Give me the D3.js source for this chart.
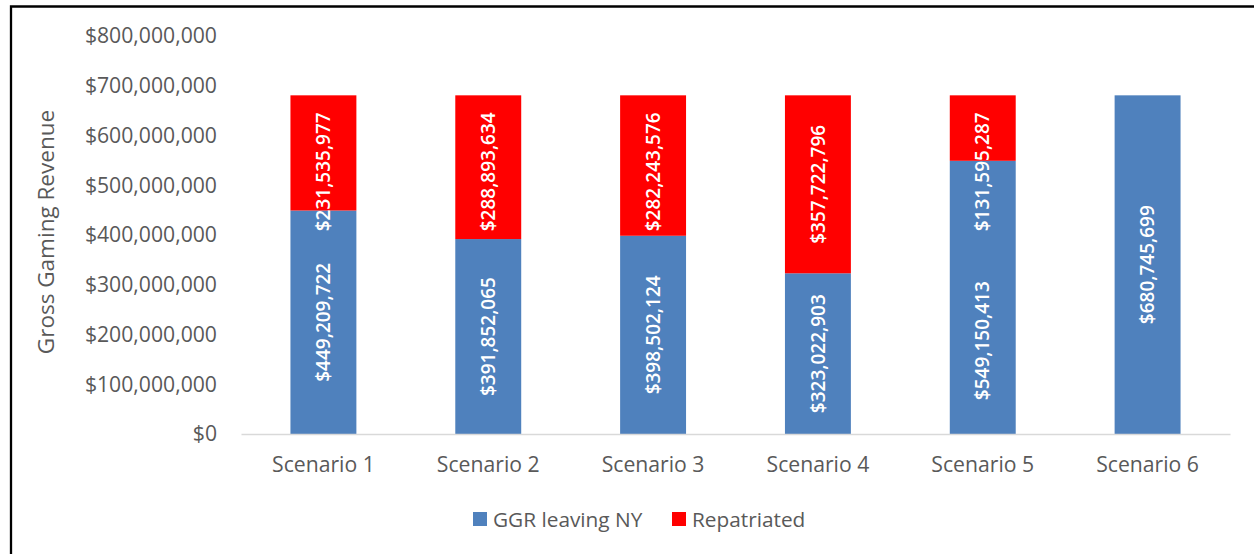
<!DOCTYPE html>
<html>
<head>
<meta charset="utf-8">
<script src="https://cdn.jsdelivr.net/npm/d3@7"></script>
<style>
  html, body { margin: 0; padding: 0; background: #fff; }
  svg text { font-family: "Open Sans", "Noto Sans", sans-serif; }
</style>
</head>
<body>
<svg id="chart" width="1254" height="554"></svg>
<script>
// chart data
var categories = ['Scenario 1', 'Scenario 2', 'Scenario 3', 'Scenario 4', 'Scenario 5', 'Scenario 6'];
var ggrLeaving = [449209722, 391852065, 398502124, 323022903, 549150413, 680745699];
var repatriated = [231535977, 288893634, 282243576, 357722796, 131595287, 0];
var yTicks = [0, 100e6, 200e6, 300e6, 400e6, 500e6, 600e6, 700e6, 800e6];
var seriesNames = ['GGR leaving NY', 'Repatriated'];
var seriesColors = ['#4f81bd', '#ff0000'];

var svg = d3.select('#chart');
var grey = '#595959';

var x = d3.scaleBand().domain(categories).range([241, 1230]).padding(0);
var y = d3.scaleLinear().domain([0, 800e6]).range([434, 36]);
var barW = x.bandwidth() * 0.4;

// frame (left + top edges)
svg.append('path')
    .attr('d', 'M11,554V6.5H1254')
    .attr('fill', 'none')
    .attr('stroke', '#000')
    .attr('stroke-width', 2.3);

// y axis labels
var yAxis = svg.append('g')
    .attr('transform', 'translate(241,0)')
    .call(d3.axisLeft(y).tickValues(yTicks).tickSize(0).tickPadding(24)
        .tickFormat(d3.format('$,')));
yAxis.select('.domain').remove();
yAxis.selectAll('text')
    .attr('fill', grey)
    .style('font-size', '21.2px');

// y axis title
svg.append('text')
    .attr('transform', 'translate(54,232) rotate(-90)')
    .attr('text-anchor', 'middle')
    .attr('fill', grey)
    .style('font-size', '22.5px')
    .text('Gross Gaming Revenue');

// stacked rows
var rows = categories.map(function (c, i) {
    return {cat: c, a: ggrLeaving[i], b: repatriated[i]};
});
var stacked = d3.stack().keys(['a', 'b'])(rows);

var layers = svg.selectAll('g.layer')
    .data(stacked)
    .enter()
    .append('g')
    .attr('class', 'layer')
    .attr('fill', function (d, i) { return seriesColors[i]; });

layers.selectAll('rect')
    .data(function (d) { return d; })
    .enter()
    .append('rect')
    .attr('x', function (d) { return x(d.data.cat) + (x.bandwidth() - barW) / 2; })
    .attr('width', barW)
    .attr('y', function (d) { return y(d[1]); })
    .attr('height', function (d) { return y(d[0]) - y(d[1]); });

// x axis
var xAxis = svg.append('g')
    .attr('transform', 'translate(0,434)')
    .call(d3.axisBottom(x).tickSize(0).tickPadding(23));
xAxis.select('.domain').attr('stroke', '#d9d9d9').attr('stroke-width', 1.3);
xAxis.selectAll('text')
    .attr('fill', grey)
    .style('font-size', '21.2px');

// value labels, rotated inside each segment
var fmt = d3.format('$,');
var placed = {}; // category -> list of {node, cy, len, top, bot}
layers.each(function () {
    d3.select(this).selectAll('text')
        .data(function (d) { return d.filter(function (s) { return s[1] - s[0] > 0; }); })
        .enter()
        .append('text')
        .attr('fill', '#fff')
        .attr('text-anchor', 'middle')
        .attr('dy', '0.35em')
        .style('font-size', '19px')
        .style('font-weight', 600)
        .text(function (d) { return fmt(d[1] - d[0]); })
        .each(function (d) {
            var len = this.getComputedTextLength();
            var top = y(d[1]), bot = y(d[0]);
            var cy = (top + bot) / 2;
            // label longer than its segment: keep it off the bar top
            if (len + 34 > bot - top) cy = Math.max(cy, top + 17 + len / 2);
            (placed[d.data.cat] = placed[d.data.cat] || [])
                .push({node: this, cy: cy, len: len, top: top, bot: bot});
        });
});

// push the lower label down when the upper one runs into it
Object.keys(placed).forEach(function (cat) {
    var list = placed[cat];
    if (list.length === 2) {
        var lo = list[0], hi = list[1];
        var hiBottom = hi.cy + hi.len / 2;
        if (lo.cy - lo.len / 2 < hiBottom + 10) lo.cy = (hiBottom + lo.bot) / 2 + 8;
    }
    var cx = x(cat) + x.bandwidth() / 2;
    list.forEach(function (l) {
        d3.select(l.node).attr('transform', 'translate(' + cx + ',' + l.cy + ') rotate(-90)');
    });
});

// legend
var legend = svg.append('g');
var legendX = [473, 672];
seriesNames.forEach(function (name, i) {
    legend.append('rect')
        .attr('x', legendX[i])
        .attr('y', 512)
        .attr('width', 14)
        .attr('height', 14)
        .attr('fill', seriesColors[i]);
    legend.append('text')
        .attr('x', legendX[i] + 20)
        .attr('y', 526.5)
        .attr('fill', grey)
        .style('font-size', '20.8px')
        .text(name);
});
</script>
</body>
</html>
